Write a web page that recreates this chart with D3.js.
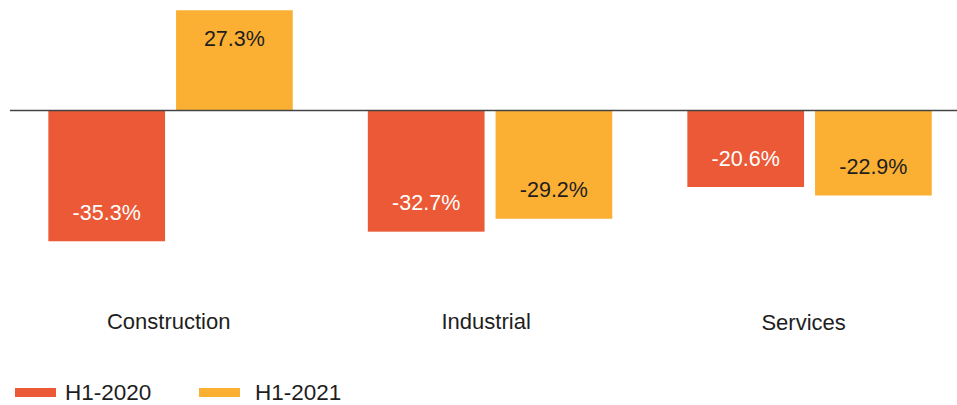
<!DOCTYPE html>
<html>
<head>
<meta charset="utf-8">
<script src="https://cdn.jsdelivr.net/npm/d3@7"></script>
<style>
  html, body { margin: 0; padding: 0; background: #fff; }
  svg { display: block; font-family: "Liberation Sans", Arial, Helvetica, sans-serif; }
</style>
</head>
<body>
<svg id="chart" width="957" height="405"></svg>
<script>
// Sector change, first half of year
const categories = ["Construction", "Industrial", "Services"];
const seriesNames = ["H1-2020", "H1-2021"];
const h12020 = [-35.3, -32.7, -20.6];
const h12021 = [27.3, -29.2, -22.9];
const seriesColors = ["#EB5936", "#FBB034"];
const labelColors = ["#ffffff", "#1e1e1e"];

const rows = categories.map((c, i) => ({
  category: c,
  values: [
    { series: seriesNames[0], value: h12020[i] },
    { series: seriesNames[1], value: h12021[i] }
  ]
}));

const svg = d3.select("#chart");

const x0 = d3.scaleBand()
  .domain(categories)
  .range([10.8, 969.3])
  .paddingInner(0.235)
  .paddingOuter(0.1175);

const x1 = d3.scaleBand()
  .domain(seriesNames)
  .range([0, x0.bandwidth()])
  .paddingInner(0.086)
  .paddingOuter(0);

// Category captions sit on their own evenly spaced positions
const xLabel = d3.scalePoint()
  .domain(categories)
  .range([168.7, 803.6]);

const y = d3.scaleLinear()
  .domain([-40, 30])
  .range([258.6, 0.3]);

const color = d3.scaleOrdinal().domain(seriesNames).range(seriesColors);
const textColor = d3.scaleOrdinal().domain(seriesNames).range(labelColors);
const pct = v => v.toFixed(1) + "%";

// Bars
const groups = svg.append("g")
  .selectAll("g")
  .data(rows)
  .join("g")
  .attr("transform", d => `translate(${x0(d.category)},0)`);

groups.selectAll("rect")
  .data(d => d.values)
  .join("rect")
  .attr("x", d => x1(d.series))
  .attr("width", x1.bandwidth())
  .attr("y", d => y(Math.max(0, d.value)))
  .attr("height", d => Math.abs(y(d.value) - y(0)))
  .attr("fill", d => color(d.series));

// Value labels inside the bar ends
groups.selectAll("text")
  .data(d => d.values)
  .join("text")
  .attr("x", d => x1(d.series) + x1.bandwidth() / 2)
  .attr("y", d => y(d.value) + (d.value >= 0 ? 29 : -28.5))
  .attr("text-anchor", "middle")
  .attr("dominant-baseline", "central")
  .attr("font-size", "21.5px")
  .attr("fill", d => textColor(d.series))
  .text(d => pct(d.value));

// Zero baseline
const zeroY = Math.round(y(0)) - 0.5;
svg.append("line")
  .attr("x1", 10)
  .attr("x2", 957)
  .attr("y1", zeroY)
  .attr("y2", zeroY)
  .attr("stroke", "#444")
  .attr("stroke-width", 1.3);

// Category labels
svg.append("g")
  .selectAll("text")
  .data(categories)
  .join("text")
  .attr("x", d => xLabel(d))
  .attr("y", (d, i) => 328.5 + (i === 2 ? 1.5 : 0))
  .attr("text-anchor", "middle")
  .attr("font-size", "22px")
  .attr("fill", "#1e1e1e")
  .text(d => d);

// Legend
const legendSwatchX = [15, 199];
const legendTextX = [65, 255];
const legend = svg.append("g")
  .selectAll("g")
  .data(seriesNames)
  .join("g");

legend.append("rect")
  .attr("x", (d, i) => legendSwatchX[i])
  .attr("y", 388)
  .attr("width", 41)
  .attr("height", 9)
  .attr("fill", d => color(d));

legend.append("text")
  .attr("x", (d, i) => legendTextX[i])
  .attr("y", 400)
  .attr("font-size", "22.5px")
  .attr("fill", "#1e1e1e")
  .text(d => d);
</script>
</body>
</html>
